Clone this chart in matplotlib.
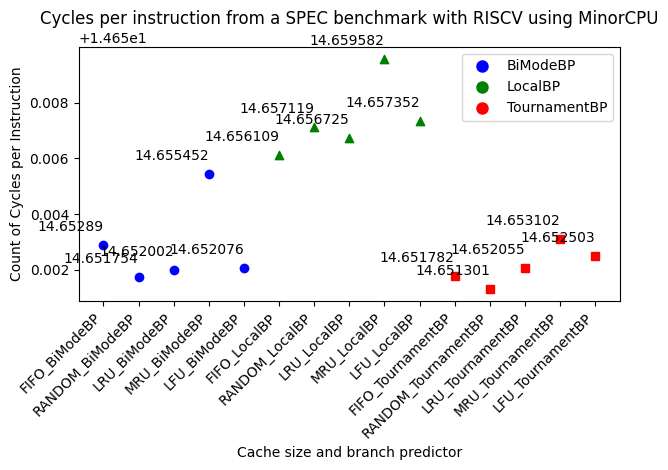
import matplotlib
matplotlib.use("Agg")
import matplotlib.pyplot as plt
from matplotlib.lines import Line2D

# --- veriler
categories = [
    "FIFO_BiModeBP", "RANDOM_BiModeBP", "LRU_BiModeBP", "MRU_BiModeBP", "LFU_BiModeBP",
    "FIFO_LocalBP", "RANDOM_LocalBP", "LRU_LocalBP", "MRU_LocalBP", "LFU_LocalBP",
    "FIFO_TournamentBP", "RANDOM_TournamentBP", "LRU_TournamentBP", "MRU_TournamentBP", "LFU_TournamentBP",
]
bimode_cpi = [14.65289, 14.651754, 14.652002, 14.655452, 14.652076]
local_cpi = [14.656109, 14.657119, 14.656725, 14.659582, 14.657352]
tournament_cpi = [14.651782, 14.651301, 14.652055, 14.653102, 14.652503]
predictors = ["BiModeBP", "LocalBP", "TournamentBP"]

series = [
    (bimode_cpi, "blue", "o"),
    (local_cpi, "green", "^"),
    (tournament_cpi, "red", "s"),
]

fig, ax = plt.subplots(figsize=(6.68, 4.70), dpi=100)

x0 = 0
for vals, col, mk in series:
    xs = list(range(x0, x0 + len(vals)))
    ax.scatter(xs, vals, color=col, marker=mk, zorder=3)
    for x, v in zip(xs, vals):
        ax.annotate(str(v), (x, v), xytext=(0, 10),
                    textcoords="offset points", ha="right")
    x0 += len(vals)

ax.set_xticks(range(len(categories)))
ax.set_xticklabels(categories, rotation=45, ha="right")
ax.set_title("Cycles per instruction from a SPEC benchmark with RISCV using MinorCPU")
ax.set_xlabel("Cache size and branch predictor")
ax.set_ylabel("Count of Cycles per Instruction")

handles = [Line2D([0], [0], marker="o", color="w", markerfacecolor=c, markersize=10, label=p)
           for p, (_, c, _) in zip(predictors, series)]
ax.legend(handles=handles, loc="upper right")

plt.subplots_adjust(left=0.118, right=0.928, top=0.9, bottom=0.36)
plt.savefig("out.png", dpi=100)
